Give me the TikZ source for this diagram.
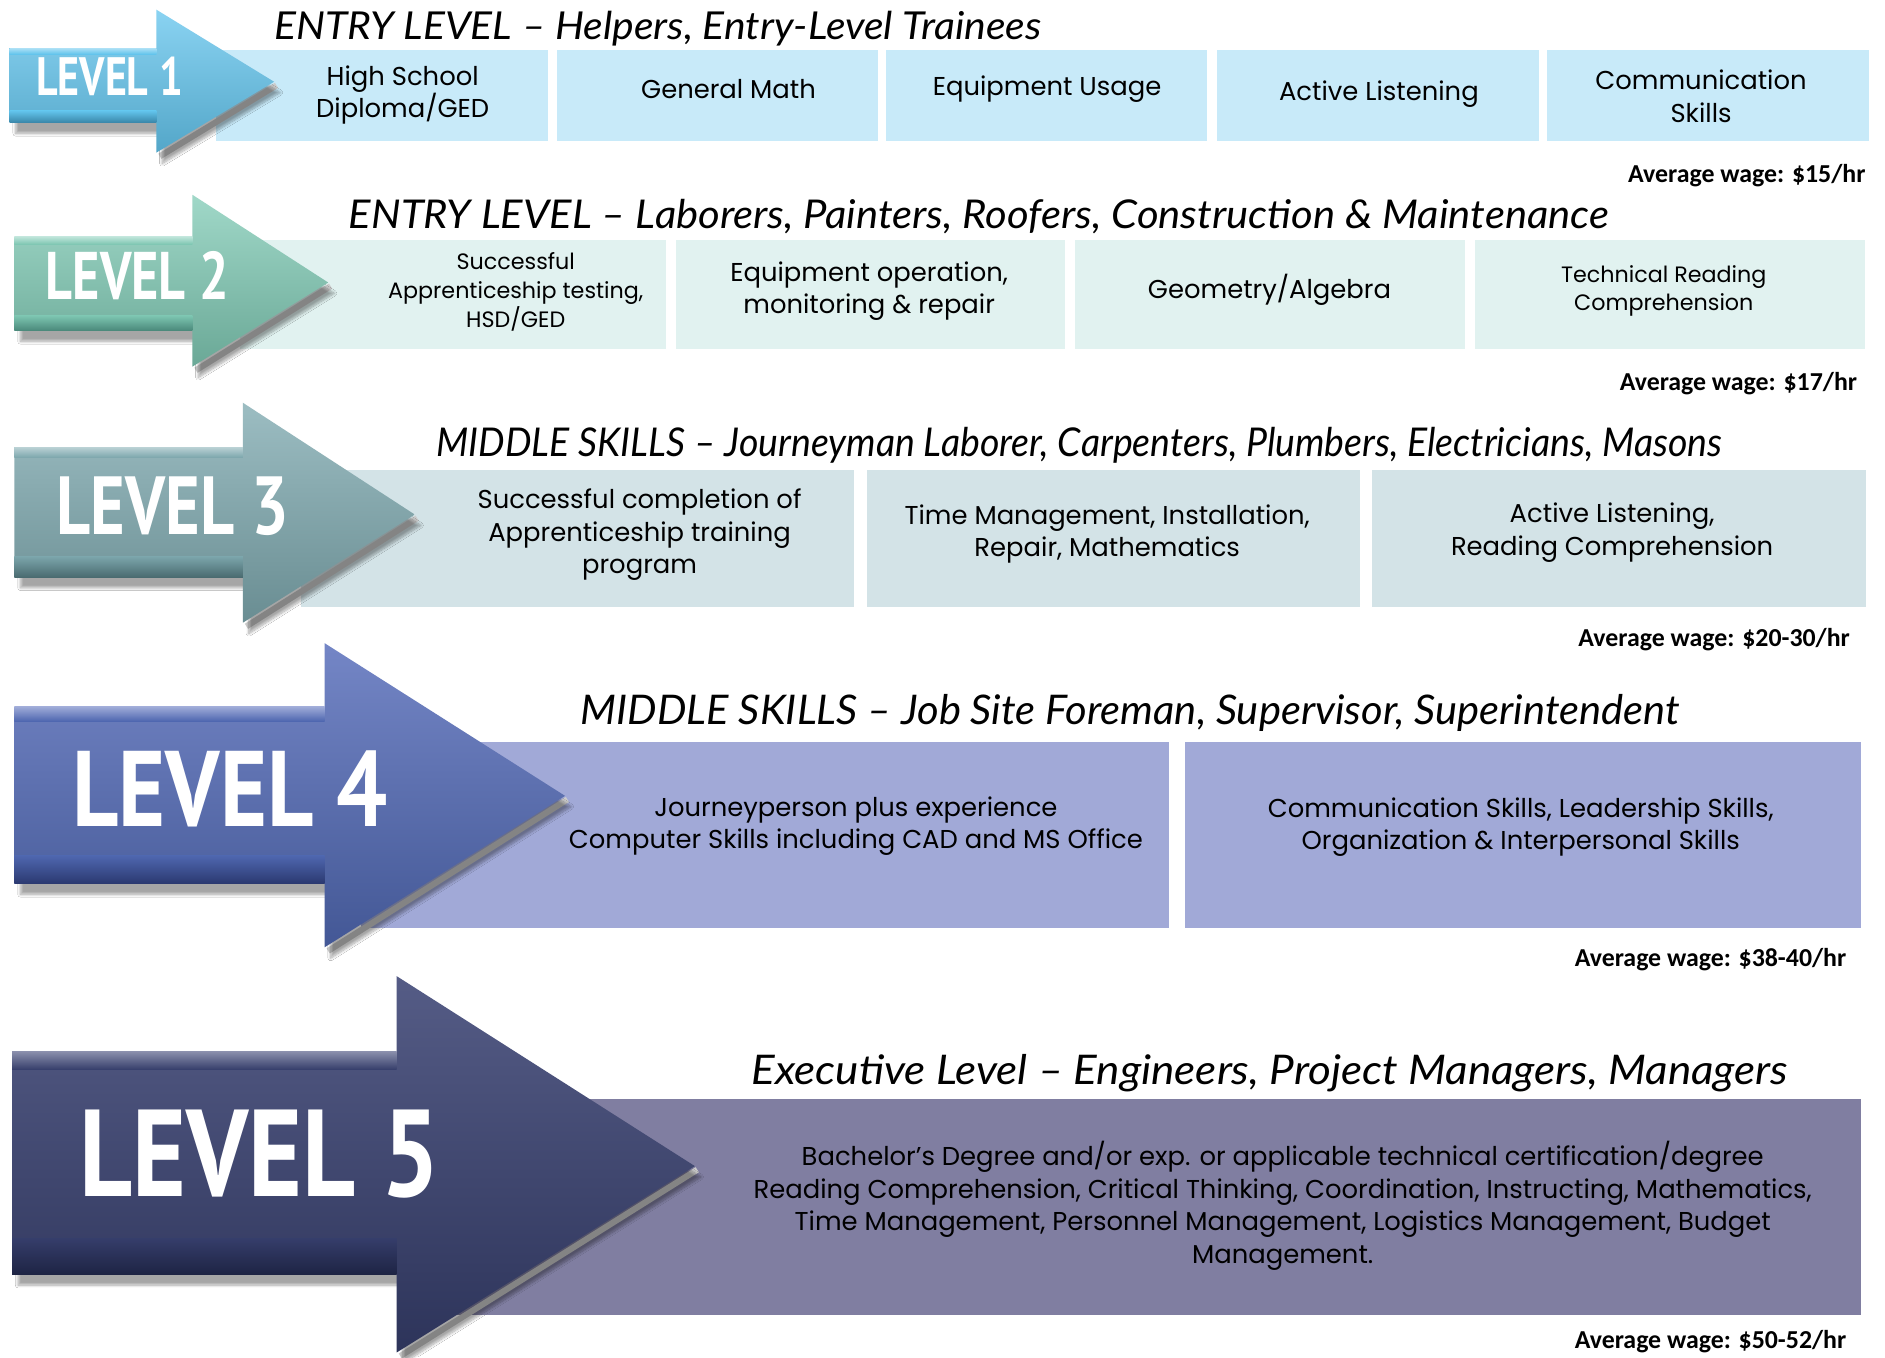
\documentclass[tikz,border=0pt]{standalone}
\usepackage{fontspec}
\usepackage{graphicx}
\setmainfont{Poppins}
\newfontfamily\titlefont{Lato}
\newfontfamily\levelfont{PT Sans}
\newfontfamily\wagefont{Carlito}
\usetikzlibrary{shadows.blur}
\definecolor{boxA}{HTML}{C8EAF9}
\definecolor{boxB}{HTML}{E1F2F0}
\definecolor{boxC}{HTML}{D3E3E7}
\definecolor{boxD}{HTML}{A1A9D7}
\definecolor{boxE}{HTML}{807EA1}
\tikzset{
  txt/.style={align=center, inner sep=0pt, text=black, font=\fontsize{21.5}{27}\selectfont},
  smalltxt/.style={txt, font=\fontsize{18.5}{24}\selectfont},
  ttl/.style={anchor=base west, inner sep=0pt},
  wage/.style={anchor=base east, inner sep=0pt, font=\wagefont\bfseries\fontsize{21.5}{24}\selectfont},
  lvl/.style={anchor=south west, inner sep=0pt, text=white},
}
\definecolor{HA}{HTML}{8AD3F2}\definecolor{MA}{HTML}{62C4EC}\definecolor{BA}{HTML}{3A86A8}
\definecolor{HB}{HTML}{A0D8C8}\definecolor{MB}{HTML}{7DC6B1}\definecolor{BB}{HTML}{4A887A}
\definecolor{HC}{HTML}{9CBDC2}\definecolor{MC}{HTML}{7CA6AC}\definecolor{BC}{HTML}{4A6B70}
\definecolor{HD}{HTML}{7486C6}\definecolor{MD}{HTML}{4F67B0}\definecolor{BD}{HTML}{2B3970}
\definecolor{HE}{HTML}{555C86}\definecolor{ME}{HTML}{353D6A}\definecolor{BE}{HTML}{1E2444}
% #1 x0, #2 shaft top, #3 shaft bottom, #4 head base x, #5 head top, #6 head bottom, #7 tip x, #8 tip y, #9 colour letter
\newcommand\lvarrow[9]{%
  \draw[line width=5pt, black!20] (#7+2,#8+3) -- (#4+3,#6+3);
  \path[top color=H#9, middle color=M#9, bottom color=M#9!85!black,
        blur shadow={shadow xshift=5pt, shadow yshift=-9pt, shadow opacity=35, shadow blur steps=10}]
    (#1,#2) -- (#4,#2) -- (#4,#5) -- (#7,#8) -- (#4,#6) -- (#4,#3) -- (#1,#3) -- cycle;
  \path[top color=M#9, bottom color=B#9] (#1,#3-0.16*#3+0.16*#2) rectangle (#4,#3);
  \path[top color=H#9!70!white, bottom color=M#9] (#1,#2) rectangle (#4,#2+0.08*#3-0.08*#2);
}
\begin{document}
\begin{tikzpicture}[x=1pt,y=-1pt]
\useasboundingbox (0,0) rectangle (1568,1129);
\fill[white] (0,0) rectangle (1568,1129);

% ---------------- LEVEL 1 ----------------
\fill[boxA] (180,42) rectangle (456,117);
\fill[boxA] (463,42) rectangle (730,117);
\fill[boxA] (737,42) rectangle (1004,117);
\fill[boxA] (1012,42) rectangle (1280,117);
\fill[boxA] (1287,42) rectangle (1555,117);
\node[txt] (b11) at (335,79) {High School\\Diploma/GED};
\node[txt] (b12) at (606,74) {General Math};
\node[txt] (b13) at (871,74) {Equipment Usage};
\node[txt] (b14) at (1147,78) {Active Listening};
\node[txt] (b15) at (1415,80) {Communication\\Skills};
\lvarrow{8}{40}{102}{130}{8}{127}{228}{68}{A}
\node[lvl] (lv1) at (30,80) {\resizebox{122pt}{32pt}{\levelfont\bfseries LEVEL 1}};
\node[ttl] (t1) at (228,33) {\resizebox{638pt}{\height}{\titlefont\itshape\fontsize{32}{32}\selectfont ENTRY LEVEL – Helpers, Entry-Level Trainees}};
\node[wage] (w1) at (1552,152) {Average wage: \$15/hr};

% ---------------- LEVEL 2 ----------------
\fill[boxB] (200,200) rectangle (554,290);
\fill[boxB] (562,200) rectangle (886,290);
\fill[boxB] (894,200) rectangle (1219,290);
\fill[boxB] (1227,200) rectangle (1551,290);
\node[smalltxt] (b21) at (429,243) {Successful\\Apprenticeship testing,\\HSD/GED};
\node[txt] (b22) at (723,242) {Equipment operation,\\monitoring \& repair};
\node[txt] (b23) at (1056,241) {Geometry/Algebra};
\node[smalltxt] (b24) at (1384,242) {Technical Reading\\Comprehension};
\lvarrow{12}{197}{275}{160}{162}{305}{273}{235}{B}
\node[lvl] (lv2) at (38,250) {\resizebox{152pt}{40pt}{\levelfont\bfseries LEVEL 2}};
\node[ttl] (t2) at (290,190) {\resizebox{1048pt}{\height}{\titlefont\itshape\fontsize{33}{33}\selectfont ENTRY LEVEL – Laborers, Painters, Roofers, Construction \& Maintenance}};
\node[wage] (w2) at (1545,325) {Average wage: \$17/hr};

% ---------------- LEVEL 3 ----------------
\fill[boxC] (250,391) rectangle (710,505);
\fill[boxC] (721,391) rectangle (1131,505);
\fill[boxC] (1141,391) rectangle (1552,505);
\node[txt] (b31) at (532,445) {Successful completion of\\Apprenticeship training\\program};
\node[txt] (b32) at (921,444) {Time Management, Installation,\\Repair, Mathematics};
\node[txt] (b33) at (1341,443) {Active Listening,\\Reading Comprehension};
\lvarrow{12}{372}{480}{202}{335}{518}{345}{428}{C}
\node[lvl] (lv3) at (47,446) {\resizebox{193pt}{48pt}{\levelfont\bfseries LEVEL 3}};
\node[ttl] (t3) at (363,380) {\resizebox{1069pt}{\height}{\titlefont\itshape\fontsize{33}{33}\selectfont MIDDLE SKILLS – Journeyman Laborer, Carpenters, Plumbers, Electricians, Masons}};
\node[wage] (w3) at (1539,538) {Average wage: \$20-30/hr};

% ---------------- LEVEL 4 ----------------
\fill[boxD] (300,617) rectangle (972,772);
\fill[boxD] (986,617) rectangle (1548,772);
\node[txt] (b41) at (712,687) {Journeyperson plus experience\\Computer Skills including CAD and MS Office};
\node[txt] (b42) at (1265,688) {Communication Skills, Leadership Skills,\\Organization \& Interpersonal Skills};
\lvarrow{12}{588}{735}{270}{535}{788}{470}{662}{D}
\node[lvl] (lv4) at (60,688) {\resizebox{262pt}{63pt}{\levelfont\bfseries LEVEL 4}};
\node[ttl] (t4) at (483,603) {\resizebox{914pt}{\height}{\titlefont\itshape\fontsize{34}{34}\selectfont MIDDLE SKILLS – Job Site Foreman, Supervisor, Superintendent}};
\node[wage] (w4) at (1536,804) {Average wage: \$38-40/hr};

% ---------------- LEVEL 5 ----------------
\fill[boxE] (380,914) rectangle (1548,1094);
\node[txt] (b51) at (1067,1003) {Bachelor’s Degree and/or exp. or applicable technical certification/degree\\Reading Comprehension, Critical Thinking, Coordination, Instructing, Mathematics,\\Time Management, Personnel Management, Logistics Management, Budget\\Management.};
\lvarrow{10}{875}{1060}{330}{812}{1125}{578}{970}{E}
\node[lvl] (lv5) at (66,997) {\resizebox{300pt}{72pt}{\levelfont\bfseries LEVEL 5}};
\node[ttl] (t5) at (625,902) {\resizebox{862pt}{\height}{\titlefont\itshape\fontsize{34}{34}\selectfont Executive Level – Engineers, Project Managers, Managers}};
\node[wage] (w5) at (1536,1122) {Average wage: \$50-52/hr};
\end{tikzpicture}
\end{document}
